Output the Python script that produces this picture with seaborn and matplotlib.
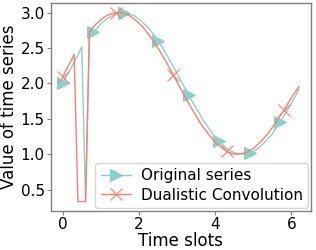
import matplotlib
matplotlib.use("Agg")
import matplotlib.pyplot as plt
import seaborn as sns

# time axis (step 0.1)
time_slots = [
    0.0, 0.1, 0.2, 0.3, 0.4, 0.5, 0.6, 0.7, 0.8, 0.9,
    1.0, 1.1, 1.2, 1.3, 1.4, 1.5, 1.6, 1.7, 1.8, 1.9,
    2.0, 2.1, 2.2, 2.3, 2.4, 2.5, 2.6, 2.7, 2.8, 2.9,
    3.0, 3.1, 3.2, 3.3, 3.4, 3.5, 3.6, 3.7, 3.8, 3.9,
    4.0, 4.1, 4.2, 4.3, 4.4, 4.5, 4.6, 4.7, 4.8, 4.9,
    5.0, 5.1, 5.2, 5.3, 5.4, 5.5, 5.6, 5.7, 5.8, 5.9,
    6.0, 6.1, 6.2,
]

original_series = [
    2.00, 2.10, 2.20, 2.30, 2.40, 2.52, 0.33, 2.64, 2.72, 2.78,
    2.84, 2.89, 2.93, 2.96, 2.99, 3.00, 3.00, 2.99, 2.97, 2.95,
    2.91, 2.86, 2.81, 2.75, 2.68, 2.60, 2.52, 2.43, 2.33, 2.24,
    2.14, 2.04, 1.94, 1.84, 1.74, 1.65, 1.56, 1.47, 1.39, 1.31,
    1.24, 1.18, 1.13, 1.08, 1.05, 1.02, 1.01, 1.00, 1.00, 1.02,
    1.04, 1.07, 1.12, 1.17, 1.23, 1.29, 1.37, 1.45, 1.54, 1.63,
    1.72, 1.82, 1.92,
]

dualistic_conv = [
    2.09, 2.20, 2.30, 2.41, 0.33, 0.33, 0.33, 2.73, 2.80, 2.85,
    2.90, 2.94, 2.97, 2.99, 3.00, 3.00, 2.99, 2.97, 2.94, 2.90,
    2.85, 2.80, 2.73, 2.66, 2.58, 2.50, 2.41, 2.32, 2.22, 2.12,
    2.02, 1.92, 1.82, 1.72, 1.63, 1.54, 1.45, 1.37, 1.30, 1.23,
    1.17, 1.12, 1.08, 1.04, 1.02, 1.00, 1.00, 1.01, 1.02, 1.05,
    1.08, 1.13, 1.18, 1.24, 1.30, 1.38, 1.46, 1.54, 1.62, 1.71,
    1.80, 1.88, 1.96,
]

original_marks = [0, 8, 16, 25, 33, 41, 49, 57]
conv_marks = [0, 14, 29, 43, 58]

teal = "#8ECFC9"
salmon = "#FA7F6F"

sns.set_style("white")
plt.rcParams["font.family"] = ["DejaVu Sans"]
plt.rcParams["text.color"] = "black"
plt.rcParams["axes.labelcolor"] = "black"
plt.rcParams["xtick.labelcolor"] = "black"
plt.rcParams["ytick.labelcolor"] = "black"

fig, ax = plt.subplots(figsize=(3.16, 2.5), dpi=100)

sns.lineplot(
    x=time_slots, y=original_series, ax=ax, color=teal, linewidth=1,
    marker=">", markersize=9, markevery=original_marks,
    markeredgecolor=teal, markeredgewidth=0.8, label="Original series",
)
sns.lineplot(
    x=time_slots, y=dualistic_conv, ax=ax, color=salmon, linewidth=1,
    marker="x", markersize=9, markevery=conv_marks,
    markeredgecolor=salmon, markeredgewidth=0.8, label="Dualistic Convolution",
)

ax.set_xlabel("Time slots", fontsize=12, labelpad=0)
ax.set_ylabel("Value of time series", fontsize=12, labelpad=2)
ax.tick_params(labelsize=11, length=3, width=0.8, color="gray", pad=1.5,
               bottom=True, left=True)
for sp in ax.spines.values():
    sp.set_color("gray")
    sp.set_linewidth(1)

ax.legend(loc="lower right", fontsize=11, borderaxespad=0.2,
          handlelength=2.0, handletextpad=0.6, borderpad=0.35,
          labelspacing=0.3)

fig.subplots_adjust(left=0.161, right=0.984, bottom=0.156, top=0.987)
fig.savefig("out.png", dpi=100)
